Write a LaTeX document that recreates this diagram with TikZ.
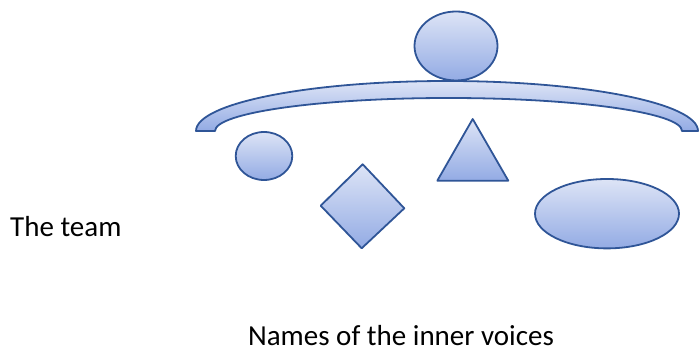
\documentclass[tikz,border=0pt]{standalone}
\usepackage{fontspec}
\setmainfont{Carlito}
\usetikzlibrary{shapes.geometric}
\definecolor{edgeblue}{HTML}{2F5597}
\definecolor{filltop}{HTML}{DDE4F6}
\definecolor{fillbot}{HTML}{93ABE4}
\tikzset{
  shapefill/.style={draw=edgeblue, line width=1.8pt, top color=filltop, bottom color=fillbot, line join=round},
  ell/.style={shapefill, ellipse, inner sep=0pt},
  lbl/.style={font=\fontsize{29}{34}\selectfont, text=black, inner sep=0pt}
}
\begin{document}
\begin{tikzpicture}[x=1pt,y=1pt]
\useasboundingbox (0,0) rectangle (699,350);
% top ellipse
\node[ell, minimum width=83pt, minimum height=69pt] (top) at (456,304) {};
% arc band
\path[shapefill] (196,219) arc[start angle=180, end angle=0, x radius=251, y radius=50]
  -- (682,219) arc[start angle=0, end angle=180, x radius=233.5, y radius=33] -- cycle;
% small ellipse
\node[ell, minimum width=56.6pt, minimum height=48pt] (small) at (264,194) {};
% diamond
\path[shapefill] (320.7,144.3) -- (362.7,185.7) -- (404.3,141.7) -- (361.7,101.7) -- cycle;
% triangle
\path[shapefill] (472.7,231) -- (508.3,169.3) -- (437.3,169.3) -- cycle;
% right ellipse
\node[ell, minimum width=144pt, minimum height=69.4pt] (big) at (607,136.3) {};
% labels
\node[lbl, anchor=base west] (team) at (10,113.3) {The team};
\node[lbl, anchor=base] (names) at (401,4) {Names of the inner voices};
\end{tikzpicture}
\end{document}
